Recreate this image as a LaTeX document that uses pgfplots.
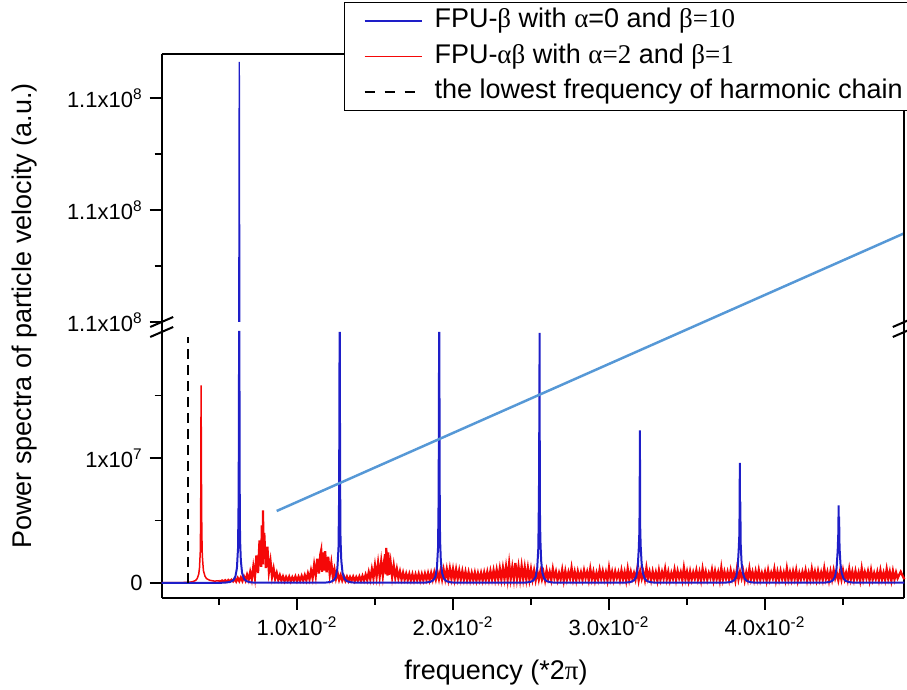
\documentclass[border=0pt]{standalone}
\usepackage{pgfplots}
\pgfplotsset{compat=1.18}
\usepackage{fontspec}
\setmainfont{Liberation Sans}
\newfontfamily\grk{Liberation Serif}
\definecolor{specblue}{RGB}{30,30,200}
\definecolor{specred}{RGB}{245,8,8}
\definecolor{annblue}{RGB}{86,152,214}
\begin{document}
\begin{tikzpicture}[x=1pt,y=1pt]
\useasboundingbox (0,0) rectangle (453.5,345);
\pgfplotsset{
  brk/.style={
    scale only axis, width=371.3pt, xmin=0.001327, xmax=0.04893,
    axis line style={line width=1pt, black, -},
    tick align=outside, major tick length=6pt, minor tick length=3.5pt,
    tick style={black, line width=0.8pt},
    tick label style={font=\fontsize{11}{13}\selectfont},
    scaled ticks=false, ytick pos=left,
  }
}
% ---------------- lower part ----------------
\begin{axis}[brk, at={(80.85pt,46pt)}, anchor=south west, height=133pt,
  ymin=-1.2e6, ymax=2.008e7, axis x line*=bottom, axis y line*=box,
  xtick={0.01,0.02,0.03,0.04},
  xticklabels={1.0x10\textsuperscript{-2},2.0x10\textsuperscript{-2},3.0x10\textsuperscript{-2},4.0x10\textsuperscript{-2}},
  minor xtick={0.005,0.015,0.025,0.035,0.045},
  ytick={0,1e7}, yticklabels={0,1x10\textsuperscript{7}}, minor ytick={5e6,1.5e7},
  clip=false]
% FPU-alpha-beta (red): smooth low-frequency part
\addplot[specred, line width=0.75pt] coordinates {
(0.00133,0.02e6) (0.0025,0.03e6) (0.0030,0.05e6) (0.0033,0.1e6) (0.0035,0.2e6) (0.0036,0.35e6)
(0.0037,0.7e6) (0.00375,1.2e6) (0.0038,2.5e6) (0.00382,4.5e6) (0.00384,9e6) (0.00385,15.8e6)
(0.00386,10e6) (0.00387,12.5e6) (0.00388,7e6) (0.0039,4e6) (0.00393,2.2e6) (0.0040,1.0e6)
(0.0041,0.55e6) (0.0042,0.35e6) (0.0044,0.22e6) (0.0047,0.15e6) (0.0050,0.18e6)
};
% FPU-alpha-beta (red): noisy part
\addplot[specred, line width=1.15pt] coordinates {
(0.0050,0.18e6) (0.0051,0.1e6) (0.0052,0.2e6) (0.0053,0.12e6) (0.0054,0.22e6) (0.0055,0.1e6)
(0.0056,0.24e6) (0.0057,0.12e6) (0.0058,0.26e6) (0.0059,0.13e6)
(0.0060,0.35e6) (0.0061,0.12e6) (0.0062,0.40e6) (0.0063,0.15e6) (0.0064,0.44e6) (0.0065,0.16e6)
(0.0066,0.52e6) (0.0067,0.2e6) (0.0068,0.66e6) (0.0069,0.25e6) (0.0070,0.88e6) (0.0071,0.3e6)
(0.0072,1.3e6) (0.0073,0.45e6) (0.0074,2.2e6) (0.0075,0.8e6) (0.0076,3.4e6) (0.0077,1.3e6)
(0.00775,4.6e6) (0.0078,1.5e6) (0.00782,5.8e6) (0.00785,2.0e6) (0.0079,4.0e6) (0.0080,1.2e6)
(0.0081,2.9e6) (0.0082,0.9e6) (0.0083,1.75e6) (0.0084,0.5e6) (0.0085,1.15e6) (0.0086,0.35e6)
(0.0087,0.8e6) (0.0088,0.25e6) (0.0089,0.62e6) (0.0090,0.2e6) (0.0091,0.52e6) (0.0092,0.15e6)
(0.0093,0.48e6) (0.0094,0.18e6) (0.0095,0.5e6) (0.0096,0.14e6) (0.0097,0.46e6) (0.0098,0.2e6)
(0.0099,0.52e6) (0.0100,0.16e6)
(0.0101,0.5e6) (0.0102,0.18e6) (0.0103,0.56e6) (0.0104,0.2e6) (0.0105,0.62e6) (0.0106,0.22e6)
(0.0107,0.76e6) (0.0108,0.3e6) (0.0109,1.0e6) (0.0110,0.4e6) (0.0111,1.45e6) (0.0112,0.6e6)
(0.0113,1.95e6) (0.0114,0.75e6) (0.0115,2.3e6) (0.01155,2.6e6) (0.0116,0.9e6) (0.0117,2.45e6)
(0.01175,1.0e6) (0.0118,2.55e6) (0.0119,0.85e6) (0.0120,2.1e6) (0.0121,0.7e6) (0.0122,1.6e6)
(0.0123,0.5e6) (0.0124,1.1e6) (0.0125,0.35e6) (0.0126,0.82e6) (0.0127,0.25e6) (0.0128,0.62e6)
(0.0129,0.2e6) (0.0130,0.54e6) (0.0131,0.18e6) (0.0132,0.5e6) (0.0133,0.16e6) (0.0134,0.48e6)
(0.0135,0.2e6) (0.0136,0.5e6) (0.0137,0.15e6) (0.0138,0.47e6) (0.0139,0.2e6) (0.0140,0.52e6)
(0.0141,0.18e6) (0.0142,0.56e6) (0.0143,0.2e6) (0.0144,0.66e6) (0.0145,0.24e6) (0.0146,0.86e6)
(0.0147,0.3e6) (0.0148,1.1e6) (0.0149,0.4e6) (0.0150,1.4e6) (0.0151,0.5e6) (0.0152,1.6e6)
(0.0153,0.55e6) (0.0154,1.72e6) (0.0155,0.6e6) (0.0156,1.85e6) (0.01565,2.3e6) (0.0157,0.7e6)
(0.01572,2.8e6) (0.0158,0.6e6) (0.01585,2.45e6) (0.0159,0.65e6) (0.0160,1.65e6) (0.0161,0.5e6)
(0.0162,1.4e6) (0.0163,0.45e6) (0.0164,1.12e6) (0.0165,0.38e6) (0.0166,0.92e6) (0.0167,0.3e6)
(0.0168,0.82e6) (0.0169,0.28e6) (0.0170,0.74e6) (0.0171,0.25e6) (0.0172,0.72e6) (0.0173,0.22e6)
(0.0174,0.7e6) (0.0175,0.2e6) (0.0176,0.68e6) (0.0177,0.24e6) (0.0178,0.72e6) (0.0179,0.2e6)
(0.0180,0.7e6) (0.0181,0.22e6) (0.0182,0.74e6) (0.0183,0.26e6) (0.0184,0.78e6) (0.0185,0.24e6)
(0.0186,0.8e6) (0.0187,0.28e6) (0.0188,0.85e6) (0.0189,0.3e6)
(0.0190,0.9e6) (0.0191,0.32e6) (0.0192,0.98e6) (0.0193,0.3e6) (0.0194,1.05e6) (0.0195,0.35e6)
(0.0196,1.1e6) (0.0197,0.32e6) (0.0198,1.15e6) (0.0199,0.36e6) (0.0200,1.1e6) (0.0201,0.3e6)
(0.0202,1.08e6) (0.0203,0.34e6) (0.0204,1.0e6) (0.0205,0.3e6) (0.0206,0.95e6) (0.0207,0.28e6)
(0.0208,0.9e6) (0.0209,0.25e6) (0.0210,0.85e6) (0.0211,0.22e6) (0.0212,0.8e6) (0.0213,0.24e6)
(0.0214,0.82e6) (0.0215,0.2e6) (0.0216,0.78e6) (0.0217,0.25e6) (0.0218,0.8e6) (0.0219,0.22e6)
(0.0220,0.84e6) (0.0221,0.26e6) (0.0222,0.88e6) (0.0223,0.25e6) (0.0224,0.95e6) (0.0225,0.3e6)
(0.0226,1.0e6) (0.0227,0.28e6) (0.0228,1.05e6) (0.0229,0.32e6) (0.0230,1.15e6) (0.0231,0.3e6)
(0.0232,1.2e6) (0.0233,0.35e6) (0.0234,1.3e6) (0.0235,0.3e6) (0.0236,1.55e6) (0.0237,0.35e6)
(0.0238,1.25e6) (0.0239,0.32e6) (0.0240,1.6e6) (0.0241,0.36e6) (0.0242,1.3e6) (0.0243,0.3e6)
(0.0244,1.35e6) (0.0245,0.34e6) (0.0246,1.25e6) (0.0247,0.3e6) (0.0248,1.2e6) (0.0249,0.28e6)
(0.0250,1.1e6) (0.0251,0.3e6) (0.0252,1.0e6) (0.0253,0.25e6) (0.0254,0.95e6) (0.0255,0.28e6)
(0.0256,0.92e6) (0.0257,0.3e6) (0.0258,0.85e6) (0.0259,0.22e6) (0.0260,1.0e6) (0.0261,0.35e6)
(0.0262,0.88e6) (0.0263,0.26e6) (0.0264,1.12e6) (0.0265,0.4e6) (0.0266,0.9e6) (0.0267,0.24e6)
(0.0268,0.8e6) (0.0269,0.32e6) (0.0270,1.05e6) (0.0271,0.2e6) (0.0272,0.95e6) (0.0273,0.28e6)
(0.0274,0.86e6) (0.0275,0.36e6) (0.0276,1.2e6) (0.0277,0.3e6) (0.0278,0.9e6) (0.0279,0.22e6)
(0.0280,0.92e6) (0.0281,0.35e6) (0.0282,0.85e6) (0.0283,0.26e6) (0.0284,1.0e6) (0.0285,0.4e6)
(0.0286,0.88e6) (0.0287,0.24e6) (0.0288,1.12e6) (0.0289,0.32e6) (0.0290,0.9e6) (0.0291,0.2e6)
(0.0292,0.8e6) (0.0293,0.28e6) (0.0294,1.05e6) (0.0295,0.36e6) (0.0296,0.95e6) (0.0297,0.3e6)
(0.0298,0.86e6) (0.0299,0.22e6) (0.0300,1.2e6) (0.0301,0.35e6) (0.0302,0.9e6) (0.0303,0.26e6)
(0.0304,0.92e6) (0.0305,0.4e6) (0.0306,0.85e6) (0.0307,0.24e6) (0.0308,1.0e6) (0.0309,0.32e6)
(0.0310,0.88e6) (0.0311,0.2e6) (0.0312,1.12e6) (0.0313,0.28e6) (0.0314,0.9e6) (0.0315,0.36e6)
(0.0316,0.8e6) (0.0317,0.3e6) (0.0318,1.05e6) (0.0319,0.22e6) (0.0320,0.95e6) (0.0321,0.35e6)
(0.0322,0.86e6) (0.0323,0.26e6) (0.0324,1.2e6) (0.0325,0.4e6) (0.0326,0.9e6) (0.0327,0.24e6)
(0.0328,0.92e6) (0.0329,0.32e6) (0.0330,0.85e6) (0.0331,0.2e6) (0.0332,1.0e6) (0.0333,0.28e6)
(0.0334,0.88e6) (0.0335,0.36e6) (0.0336,1.12e6) (0.0337,0.3e6) (0.0338,0.9e6) (0.0339,0.22e6)
(0.0340,0.8e6) (0.0341,0.35e6) (0.0342,1.05e6) (0.0343,0.26e6) (0.0344,0.95e6) (0.0345,0.4e6)
(0.0346,0.86e6) (0.0347,0.24e6) (0.0348,1.2e6) (0.0349,0.32e6) (0.0350,0.9e6) (0.0351,0.2e6)
(0.0352,0.92e6) (0.0353,0.28e6) (0.0354,0.85e6) (0.0355,0.36e6) (0.0356,1.0e6) (0.0357,0.3e6)
(0.0358,0.88e6) (0.0359,0.22e6) (0.0360,1.12e6) (0.0361,0.35e6) (0.0362,0.9e6) (0.0363,0.26e6)
(0.0364,0.8e6) (0.0365,0.4e6) (0.0366,1.05e6) (0.0367,0.24e6) (0.0368,0.95e6) (0.0369,0.32e6)
(0.0370,0.86e6) (0.0371,0.2e6) (0.0372,1.2e6) (0.0373,0.28e6) (0.0374,0.9e6) (0.0375,0.36e6)
(0.0376,0.88e6) (0.0377,0.26e6) (0.0378,1.0e6) (0.0379,0.34e6) (0.0380,0.82e6) (0.0381,0.2e6)
(0.0382,1.1e6) (0.0383,0.3e6) (0.0384,0.9e6) (0.0385,0.38e6) (0.0386,0.95e6) (0.0387,0.22e6)
(0.0388,0.84e6) (0.0389,0.28e6) (0.0390,1.15e6) (0.0391,0.33e6) (0.0392,0.87e6) (0.0393,0.25e6)
(0.0394,0.93e6) (0.0395,0.3e6) (0.0396,1.02e6) (0.0397,0.26e6) (0.0398,0.8e6) (0.0399,0.34e6)
(0.0400,0.88e6) (0.0401,0.2e6) (0.0402,1.0e6) (0.0403,0.3e6) (0.0404,0.82e6) (0.0405,0.38e6)
(0.0406,1.1e6) (0.0407,0.22e6) (0.0408,0.9e6) (0.0409,0.28e6) (0.0410,0.95e6) (0.0411,0.33e6)
(0.0412,0.84e6) (0.0413,0.25e6) (0.0414,1.15e6) (0.0415,0.3e6) (0.0416,0.87e6) (0.0417,0.26e6)
(0.0418,0.93e6) (0.0419,0.34e6) (0.0420,1.02e6) (0.0421,0.2e6) (0.0422,0.8e6) (0.0423,0.3e6)
(0.0424,0.88e6) (0.0425,0.38e6) (0.0426,1.0e6) (0.0427,0.22e6) (0.0428,0.82e6) (0.0429,0.28e6)
(0.0430,1.1e6) (0.0431,0.33e6) (0.0432,0.9e6) (0.0433,0.25e6) (0.0434,0.95e6) (0.0435,0.3e6)
(0.0436,0.84e6) (0.0437,0.26e6) (0.0438,1.15e6) (0.0439,0.34e6) (0.0440,0.87e6) (0.0441,0.2e6)
(0.0442,0.93e6) (0.0443,0.3e6) (0.0444,1.02e6) (0.0445,0.38e6) (0.0446,0.8e6) (0.0447,0.22e6)
(0.0448,0.88e6) (0.0449,0.28e6) (0.0450,1.0e6) (0.0451,0.33e6) (0.0452,0.82e6) (0.0453,0.25e6)
(0.0454,1.1e6) (0.0455,0.3e6) (0.0456,0.9e6) (0.0457,0.26e6) (0.0458,0.95e6) (0.0459,0.34e6)
(0.0460,0.84e6) (0.0461,0.2e6) (0.0462,1.15e6) (0.0463,0.3e6) (0.0464,0.87e6) (0.0465,0.38e6)
(0.0466,0.93e6) (0.0467,0.22e6) (0.0468,1.02e6) (0.0469,0.28e6) (0.0470,0.8e6) (0.0471,0.33e6)
(0.0472,0.88e6) (0.0473,0.25e6) (0.0474,1.0e6) (0.0475,0.3e6) (0.0476,0.82e6) (0.0477,0.26e6)
(0.0478,1.1e6) (0.0479,0.34e6) (0.0480,0.9e6) (0.0481,0.2e6) (0.0482,0.95e6) (0.0483,0.3e6)
(0.0484,0.84e6) (0.0485,0.38e6) (0.0487,0.9e6) (0.04893,0.3e6)
};
% FPU-beta (blue), lower part
\addplot[specblue, line width=1pt] coordinates {
(0.00133,0) (0.0053,0.02e6) (0.0057,0.08e6) (0.0059,0.2e6) (0.00605,0.5e6) (0.00615,1.2e6)
(0.00622,2.8e6) (0.00626,7e6) (0.00629,20.08e6) (0.00631,20.08e6) (0.00632,9e6) (0.00635,3.5e6)
(0.0064,1.8e6) (0.00648,0.8e6) (0.0066,0.35e6) (0.00675,0.15e6) (0.0070,0.06e6) (0.0073,0.02e6)
(0.01174,0.02e6) (0.01214,0.08e6) (0.01234,0.2e6) (0.01249,0.5e6) (0.01259,1.2e6) (0.01266,2.8e6)
(0.0127,7e6) (0.01273,20e6) (0.01275,20e6) (0.01276,9e6) (0.01279,3.5e6) (0.01284,1.8e6)
(0.01292,0.8e6) (0.01304,0.35e6) (0.01319,0.15e6) (0.01344,0.06e6) (0.01374,0.02e6)
(0.01812,0.02e6) (0.01852,0.08e6) (0.01872,0.2e6) (0.01887,0.5e6) (0.01897,1.2e6) (0.01904,2.8e6)
(0.01908,7e6) (0.01911,20e6) (0.01913,20e6) (0.01914,9e6) (0.01917,3.5e6) (0.01922,1.8e6)
(0.0193,0.8e6) (0.01942,0.35e6) (0.01957,0.15e6) (0.01982,0.06e6) (0.02012,0.02e6)
(0.02455,0.02e6) (0.02495,0.08e6) (0.02515,0.2e6) (0.0253,0.5e6) (0.0254,1.2e6) (0.02547,2.8e6)
(0.02551,7e6) (0.02554,15e6) (0.02555,20e6) (0.02556,12e6) (0.02557,6e6) (0.0256,3.5e6)
(0.02565,1.8e6) (0.02573,0.8e6) (0.02585,0.35e6) (0.0260,0.15e6) (0.02625,0.06e6) (0.02655,0.02e6)
(0.03099,0.02e6) (0.03139,0.08e6) (0.03159,0.2e6) (0.03174,0.5e6) (0.03184,1.2e6) (0.03191,2.8e6)
(0.03195,4.2e6) (0.03197,8e6) (0.03198,12.2e6) (0.03199,9e6) (0.0320,4.5e6) (0.03203,3e6)
(0.03209,1.6e6) (0.03217,0.8e6) (0.03229,0.35e6) (0.03244,0.15e6) (0.03269,0.06e6) (0.03299,0.02e6)
(0.0374,0.02e6) (0.0378,0.08e6) (0.0380,0.2e6) (0.03815,0.5e6) (0.03825,1.2e6) (0.03832,2.8e6)
(0.03836,4e6) (0.03838,8.1e6) (0.03839,9.6e6) (0.0384,5e6) (0.03842,6.5e6) (0.03844,3.2e6)
(0.0385,1.6e6) (0.03858,0.8e6) (0.0387,0.35e6) (0.03885,0.15e6) (0.0391,0.06e6) (0.0394,0.02e6)
(0.04374,0.02e6) (0.04414,0.08e6) (0.04434,0.2e6) (0.04449,0.5e6) (0.04459,1.2e6) (0.04466,2.6e6)
(0.0447,4e6) (0.04472,6.2e6) (0.04473,3.5e6) (0.04475,5.3e6) (0.04478,2.8e6) (0.04484,1.5e6)
(0.04492,0.8e6) (0.04504,0.35e6) (0.04519,0.15e6) (0.04544,0.06e6) (0.04574,0.02e6) (0.04893,0.02e6)
};
% lowest frequency of the harmonic chain
\addplot[black, line width=1pt, dash pattern=on 5pt off 3pt] coordinates {(0.003,0) (0.003,1.97e7)};
% annotation line
\addplot[annblue, line width=1.25pt] coordinates {(0.008699,5.76e6) (0.04893,2.798e7)};
\end{axis}
% ---------------- upper part ----------------
\begin{axis}[brk, at={(80.85pt,184pt)}, anchor=south west, height=134pt,
  ymin=1.10e8, ymax=1.123929e8, axis x line*=top, axis y line*=box,
  xtick=\empty,
  ytick={1.10e8,1.11e8,1.12e8},
  yticklabels={1.1x10\textsuperscript{8},1.1x10\textsuperscript{8},1.1x10\textsuperscript{8}},
  minor ytick={1.105e8,1.115e8},
  legend style={at={(axis description cs:0.2455,1.194)}, anchor=north west,
    draw=black, line width=0.5pt, fill=white,
    font=\fontsize{13.5}{16}\selectfont,
    inner xsep=9.5pt, inner ysep=2.5pt, row sep=4.25pt, column sep=6pt,
    nodes={inner sep=0pt, text height=10pt, text depth=3.5pt},
    cells={anchor=west}},
  legend image code/.code={\draw[#1] (0pt,0pt) -- (28.5pt,0pt);}]
\addplot[specblue, line width=0.7pt, forget plot] coordinates {(0.00626,1.09e8) (0.0063,1.1232143e8) (0.00634,1.09e8)};
\addlegendimage{specblue, line width=0.6pt}
\addlegendentry{FPU-{\grk β} with {\grk α}=0 and {\grk β=10}}
\addlegendimage{specred, line width=0.6pt}
\addlegendentry{FPU-{\grk αβ} with {\grk α=2} and {\grk β=1}}
\addlegendimage{black, line width=1pt, dash pattern=on 5pt off 5pt}
\addlegendentry{the lowest frequency of harmonic chain}
\end{axis}
% axis break marks
\draw[line width=1pt] (80.85,179) -- (80.85,184);
\draw[line width=1pt] (452.15,179) -- (452.15,184);
\draw[line width=1pt] (75.1,181.5) -- (86.6,186.5);
\draw[line width=1pt] (75.1,176.5) -- (86.6,181.5);
\draw[line width=1pt] (446.4,181.5) -- (457.9,186.5);
\draw[line width=1pt] (446.4,176.5) -- (457.9,181.5);
% axis labels
\node[rotate=90, font=\fontsize{13.5}{16}\selectfont] at (12.5,187) {Power spectra of particle velocity (a.u.)};
\node[anchor=base, font=\fontsize{13.5}{16}\selectfont] at (248,5) {frequency (*2{\grk π})};
\end{tikzpicture}
\end{document}
